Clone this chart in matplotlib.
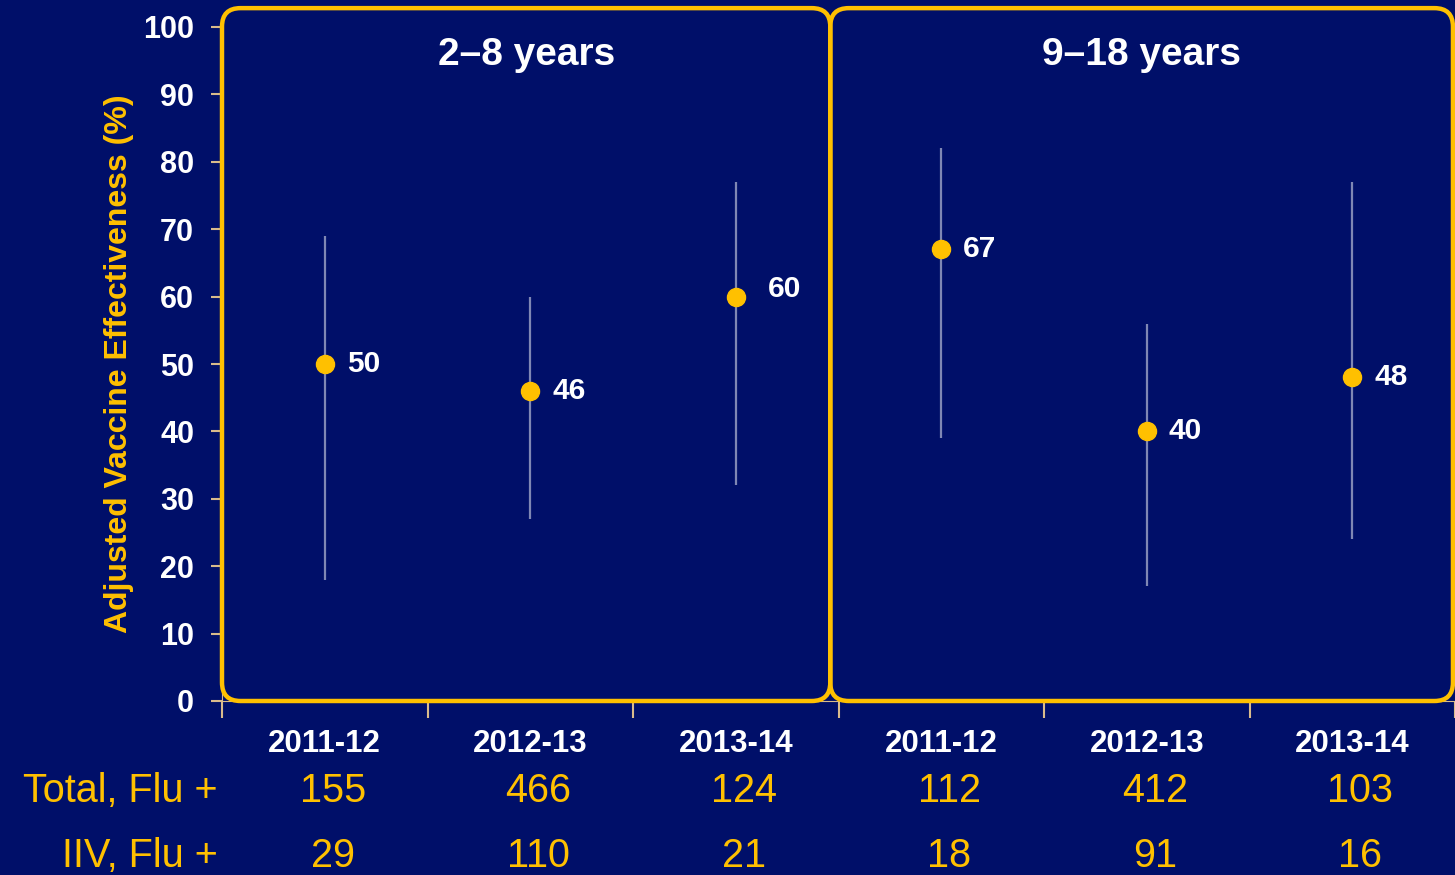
import matplotlib
matplotlib.use("Agg")
import matplotlib.pyplot as plt
from matplotlib.patches import FancyBboxPatch
from matplotlib.transforms import blended_transform_factory

# Adjusted IIV effectiveness by age group and season
AGE_GROUPS = ["2–8 years", "9–18 years"]
SEASONS = ["2011-12", "2012-13", "2013-14", "2011-12", "2012-13", "2013-14"]
VE = [50, 46, 60, 67, 40, 48]
CI_LOW = [18, 27, 32, 39, 17, 24]
CI_HIGH = [69, 60, 77, 82, 56, 77]
TOTAL_FLU_POS = [155, 466, 124, 112, 412, 103]
IIV_FLU_POS = [29, 110, 21, 18, 91, 16]

BG = "#000f69"
GOLD = "#ffc000"
TICK = "#d9bb8c"
WHITE = "#ffffff"

plt.rcParams["font.family"] = ["Liberation Sans", "DejaVu Sans"]

fig = plt.figure(figsize=(14.55, 8.75), dpi=100, facecolor=BG)
ax = fig.add_axes([222 / 1455, 174 / 875, 1233 / 1455, 674 / 875])
ax.set_facecolor(BG)
ax.set_xlim(-0.5, 5.5)
ax.set_ylim(0, 100)

for side in ("top", "right"):
    ax.spines[side].set_visible(False)
for side in ("left", "bottom"):
    ax.spines[side].set_color(TICK)

x = list(range(len(VE)))

# y axis
ax.set_yticks(range(0, 101, 10))
ax.tick_params(axis="y", colors=TICK, length=8, width=1.5, pad=12,
               labelcolor=WHITE, labelsize=22)
for lab in ax.get_yticklabels():
    lab.set_fontweight("bold")
ax.set_ylabel("Adjusted Vaccine Effectiveness (%)", color=GOLD,
              fontsize=23, fontweight="bold", labelpad=7)

# x axis: labels at the seasons, tick marks between them
ax.set_xticks(x)
ax.set_xticklabels(SEASONS, fontsize=22.5, fontweight="bold", color=WHITE)
ax.set_xticks([i - 0.5 for i in range(len(VE) + 1)], minor=True)
ax.tick_params(axis="x", which="major", length=0, pad=20)
ax.tick_params(axis="x", which="minor", length=12, width=1.5, colors=TICK)

# rounded gold panels, corner radius kept circular on screen
px_per_x = 1233 / 6
px_per_y = 674 / 100
aspect = px_per_x / px_per_y
split = 2.46
top = 102.8
for x0, x1 in ((-0.5, split), (split, 5.49)):
    ax.add_patch(FancyBboxPatch((x0, 0), x1 - x0, top,
                                boxstyle="round,pad=0,rounding_size=0.09",
                                mutation_aspect=aspect, facecolor="none",
                                edgecolor=GOLD, linewidth=3.2,
                                clip_on=False, zorder=5))

for i, name in enumerate(AGE_GROUPS):
    cx = (-0.5 + split) / 2 if i == 0 else (split + 5.49) / 2
    ax.text(cx, 95.8, name, ha="center", va="center", color=WHITE,
            fontsize=28, fontweight="bold")

# confidence intervals and point estimates
ax.vlines(x, CI_LOW, CI_HIGH, colors=WHITE, alpha=0.5, linewidth=1.6, zorder=3)
ax.plot(x, VE, "o", color=GOLD, markersize=13, zorder=4)

label_offsets = [(22, 0), (22, 0), (32, 8), (22, 0), (22, 0), (22, 0)]
for xi, v, off in zip(x, VE, label_offsets):
    ax.annotate(str(v), (xi, v), xytext=off, textcoords="offset pixels",
                ha="left", va="center", color=WHITE, fontsize=21.5,
                fontweight="bold")

# count rows under the axis
tr = blended_transform_factory(ax.transData, fig.transFigure)
rows = [("Total, Flu +", TOTAL_FLU_POS, 1 - 791 / 875),
        ("IIV, Flu +", IIV_FLU_POS, 1 - 856 / 875)]
for label, values, y in rows:
    fig.text(218 / 1455, y, label, ha="right", va="center",
             color=GOLD, fontsize=28.5)
    for xi, n in zip(x, values):
        ax.text(xi + 0.04, y, str(n), transform=tr, ha="center",
                va="center", color=GOLD, fontsize=28.5)

fig.savefig("out.png", dpi=100, facecolor=BG)
